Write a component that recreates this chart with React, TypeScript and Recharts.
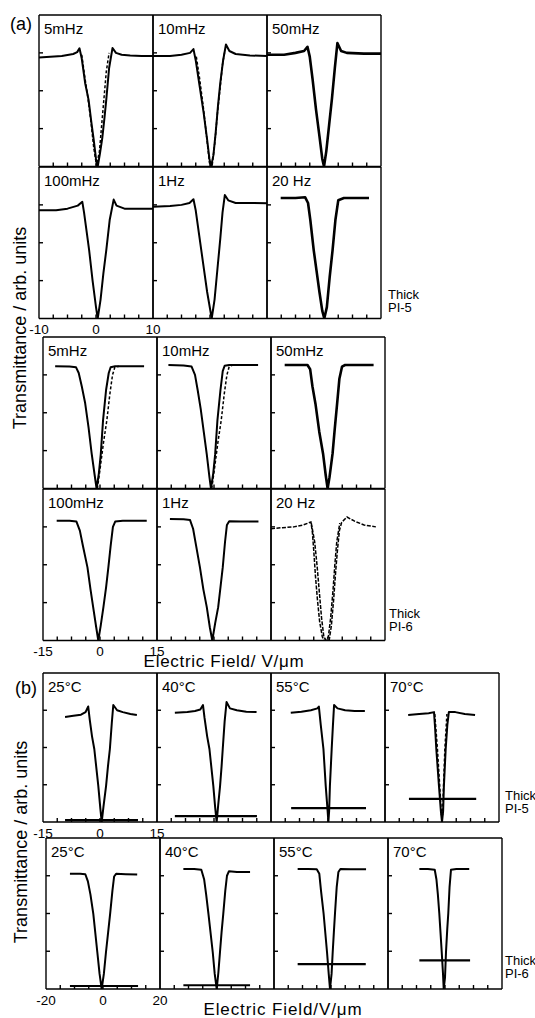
import React from 'react'
import { LineChart, Line, XAxis, YAxis } from 'recharts'

type Pt = [number, number]

// inward minor ticks on the field axis, and the labelled values under the first column
const ticks10 = [-7.5, -5, -2.5, 0, 2.5, 5, 7.5]
const ticks15 = [-11.25, -7.5, -3.75, 0, 3.75, 7.5, 11.25]
const ticks20 = [-15, -10, -5, 0, 5, 10, 15]
const labels10 = [-10, 0, 10]
const labels15 = [-15, 0, 15]
const labels20 = [-20, 0, 20]
const yTicks = [1, 2, 3]

const freqLabels = ['5mHz', '10mHz', '50mHz', '100mHz', '1Hz', '20 Hz']
const tempLabels = ['25°C', '40°C', '55°C', '70°C']

// (a) thick PI-5, field -10..10 V/um
const pi5_5mHz: Pt[] = [[-10, 2.88], [-8, 2.9], [-6, 2.92], [-4, 2.97], [-3.3, 3.02], [-2.9, 3.12], [-2.5, 2.85], [-1.9, 2.2], [-1.3, 1.76], [-0.8, 1.15], [-0.4, 0.7], [0, 0.2], [0.3, 0], [0.7, 0.35], [1.1, 0.75], [1.5, 1.3], [1.8, 1.76], [2.3, 2.6], [2.9, 3.13], [3.5, 3.0], [4.5, 2.95], [6, 2.93], [8, 2.92], [10, 2.92]]
const pi5_5mHz_ret: Pt[] = [[-2.5, 2.95], [-2.0, 2.4], [-1.5, 1.9], [-0.9, 1.2], [-0.4, 0.5], [0.1, 0.02], [0.6, 0.4], [1.0, 1.1], [1.4, 1.8], [1.8, 2.5], [2.3, 3.0]]
const pi5_10mHz: Pt[] = [[-10, 2.92], [-7, 2.92], [-5, 2.95], [-3.5, 3.0], [-2.9, 3.1], [-2.5, 2.8], [-1.8, 2.1], [-1.1, 1.4], [-0.5, 0.7], [-0.1, 0.2], [0.2, 0], [0.6, 0.3], [1.0, 0.9], [1.4, 1.6], [1.8, 2.2], [2.3, 2.8], [2.8, 3.22], [3.4, 3.05], [4.5, 2.97], [7, 2.93], [10, 2.92]]
const pi5_10mHz_ret: Pt[] = [[-2.4, 2.9], [-1.8, 2.3], [-1.2, 1.6], [-0.6, 0.8], [-0.1, 0.1], [0.4, 0.05], [0.9, 0.7], [1.3, 1.4], [1.8, 2.1], [2.2, 2.7], [2.6, 3.05]]
const pi5_50mHz: Pt[] = [[-10, 2.95], [-7, 2.95], [-5, 3.0], [-3.5, 3.05], [-2.9, 3.16], [-2.5, 2.9], [-2.0, 2.3], [-1.4, 1.5], [-0.8, 0.8], [-0.3, 0.2], [0, 0], [0.4, 0.4], [0.9, 1.1], [1.4, 1.8], [1.9, 2.6], [2.35, 3.26], [3.0, 3.05], [4, 3.0], [7, 2.98], [10, 2.98]]
const pi5_100mHz: Pt[] = [[-10, 2.86], [-7, 2.86], [-5, 2.9], [-3.2, 2.98], [-2.4, 3.08], [-2.1, 2.8], [-1.6, 2.25], [-1.2, 1.8], [-0.6, 1.0], [0, 0.3], [0.3, 0], [0.8, 0.5], [1.3, 1.2], [1.8, 1.8], [2.4, 2.6], [3.1, 3.14], [3.6, 2.98], [5, 2.9], [7, 2.9], [10, 2.9]]
const pi5_1Hz: Pt[] = [[-10, 2.95], [-7, 2.97], [-5, 3.0], [-3.6, 3.05], [-2.9, 3.15], [-2.5, 2.85], [-1.9, 2.2], [-1.2, 1.45], [-0.5, 0.7], [0.3, 0], [0.8, 0.5], [1.3, 1.3], [1.8, 2.1], [2.2, 2.8], [2.6, 3.26], [3.2, 3.12], [4.5, 3.05], [7, 3.05], [10, 3.04]]
const pi5_20Hz: Pt[] = [[-7.6, 3.18], [-5, 3.18], [-3.3, 3.2], [-2.8, 3.05], [-2.4, 2.6], [-1.8, 1.8], [-1.3, 1.25], [-0.8, 0.7], [-0.3, 0.2], [0.05, 0], [0.5, 0.3], [1.0, 1.1], [1.5, 1.8], [2.0, 2.6], [2.5, 3.12], [3.5, 3.18], [6, 3.18], [7.9, 3.18]]

// (a) thick PI-6, field -15..15 V/um
const pi6_5mHz: Pt[] = [[-11.8, 3.23], [-8, 3.22], [-6.3, 3.2], [-5.6, 3.05], [-4.8, 2.7], [-3.9, 2.25], [-3.0, 1.6], [-2.2, 0.93], [-1.4, 0.35], [-0.9, 0], [-0.3, 0.4], [0.2, 0.9], [0.8, 1.8], [1.6, 2.6], [2.3, 3.05], [2.8, 3.2], [4, 3.23], [8, 3.23], [11.6, 3.23]]
const pi6_5mHz_ret: Pt[] = [[-0.7, 0], [0, 0.5], [0.9, 1.2], [1.8, 1.8], [2.6, 2.5], [3.3, 3.0], [3.9, 3.2], [5, 3.23]]
const pi6_10mHz: Pt[] = [[-12, 3.26], [-8, 3.25], [-5.9, 3.22], [-5.0, 3.0], [-4.3, 2.6], [-3.5, 2.1], [-2.7, 1.5], [-1.9, 0.9], [-1.2, 0.3], [-0.8, 0], [-0.2, 0.4], [0.3, 0.9], [0.9, 1.8], [1.7, 2.6], [2.3, 3.1], [2.8, 3.24], [4, 3.26], [8, 3.26], [11.6, 3.26]]
const pi6_10mHz_ret: Pt[] = [[-0.6, 0], [0.1, 0.5], [1.0, 1.2], [1.9, 1.8], [2.7, 2.5], [3.4, 3.0], [4.0, 3.22], [5, 3.26]]
const pi6_50mHz: Pt[] = [[-11.4, 3.26], [-8, 3.26], [-5.4, 3.26], [-4.7, 3.15], [-4.1, 2.7], [-3.3, 2.24], [-2.3, 1.5], [-1.3, 0.92], [-0.6, 0.35], [-0.1, 0], [0.4, 0.3], [1.2, 0.92], [1.8, 1.6], [2.4, 2.24], [3.0, 2.9], [3.7, 3.22], [4.5, 3.26], [8, 3.26], [12, 3.26]]
const pi6_100mHz: Pt[] = [[-11.4, 3.16], [-8, 3.16], [-6.2, 3.14], [-5.3, 2.9], [-4.5, 2.5], [-3.3, 1.93], [-2.5, 1.35], [-1.8, 0.88], [-1.0, 0.35], [-0.45, 0], [0.2, 0.4], [0.9, 0.88], [1.6, 1.4], [2.2, 1.93], [2.8, 2.5], [3.4, 3.0], [4.0, 3.14], [6, 3.16], [9, 3.16], [12.3, 3.16]]
const pi6_1Hz: Pt[] = [[-11.6, 3.21], [-8, 3.2], [-6.3, 3.18], [-5.5, 2.95], [-4.7, 2.5], [-3.7, 1.93], [-2.8, 1.35], [-1.9, 0.88], [-1.1, 0.35], [-0.45, 0], [0.3, 0.45], [1.1, 0.88], [1.7, 1.4], [2.3, 1.93], [2.9, 2.6], [3.4, 3.05], [4.0, 3.15], [7, 3.14], [11.7, 3.14]]
const pi6_20Hz: Pt[] = [[-15, 2.95], [-12, 2.98], [-9, 3.0], [-6.5, 3.05], [-4.5, 3.13], [-4.1, 2.85], [-3.7, 2.3], [-3.3, 1.7], [-2.8, 1.1], [-2.2, 0.5], [-1.5, 0.1], [-1.0, 0], [0.3, 0], [0.9, 0.4], [1.5, 1.1], [2.0, 1.8], [2.5, 2.4], [3.0, 2.9], [3.6, 3.12], [5.0, 3.26], [7, 3.15], [9.5, 3.05], [12.6, 3.0]]
const pi6_20Hz_ret: Pt[] = [[-4.4, 3.1], [-3.5, 2.6], [-2.9, 2.0], [-2.3, 1.3], [-1.7, 0.6], [-1.1, 0.1], [-0.5, 0], [0.1, 0.1], [0.7, 0.6], [1.3, 1.3], [1.8, 2.0], [2.3, 2.6], [3.1, 3.1]]

// (b) thick PI-5 versus temperature, field -15..15 V/um
const t5_25: Pt[] = [[-9.2, 2.82], [-7, 2.85], [-5, 2.88], [-3.8, 2.95], [-3.1, 3.1], [-2.7, 2.75], [-2.1, 2.3], [-1.5, 1.96], [-0.45, 0.97], [0.1, 0.35], [0.45, 0], [0.9, 0.4], [1.6, 0.97], [2.1, 1.5], [2.6, 1.96], [3.1, 2.65], [3.5, 3.14], [4.5, 3.0], [6, 2.95], [8, 2.9], [9.7, 2.87]]
const t5_40: Pt[] = [[-10.3, 2.93], [-7, 2.95], [-5, 2.98], [-3.6, 3.02], [-2.9, 3.14], [-2.5, 2.8], [-1.8, 2.3], [-1.2, 1.96], [-0.18, 0.97], [0.3, 0.4], [0.7, 0], [1.1, 0.45], [1.6, 0.97], [2.0, 1.5], [2.3, 1.96], [2.8, 2.7], [3.3, 3.22], [4.2, 3.05], [6, 3.0], [8.5, 2.96], [11.2, 2.95]]
const t5_55: Pt[] = [[-9.8, 2.93], [-7, 2.96], [-4.5, 3.0], [-2.8, 3.05], [-2.4, 3.1], [-1.9, 2.6], [-1.2, 1.96], [-0.6, 0.97], [-0.1, 0.3], [0.1, 0], [0.3, 0.3], [0.5, 0.97], [0.97, 1.96], [1.3, 2.6], [1.6, 3.14], [2.5, 3.05], [4.5, 3.0], [7, 2.98], [9.7, 2.98]]
const t5_70: Pt[] = [[-8.9, 2.87], [-6, 2.9], [-3.5, 2.92], [-2.1, 2.95], [-1.8, 2.5], [-1.5, 1.96], [-0.8, 0.97], [-0.3, 0.3], [0, 0], [0.3, 0.3], [0.5, 0.97], [0.97, 1.96], [1.4, 2.6], [1.8, 2.95], [3.5, 2.95], [6, 2.9], [8.7, 2.87]]
const t5_70_ret: Pt[] = [[-1.9, 2.9], [-1.2, 1.96], [-0.6, 0.97], [-0.15, 0.2], [0.15, 0.2], [0.4, 0.97], [0.75, 1.96], [1.3, 2.9]]
const t5_25_dark: Pt[] = [[-9.2, 0.05], [10, 0.05]]
const t5_40_dark: Pt[] = [[-10.3, 0.16], [11.3, 0.16]]
const t5_55_dark: Pt[] = [[-9.7, 0.37], [10, 0.37]]
const t5_70_dark: Pt[] = [[-8.7, 0.62], [9, 0.62]]

// (b) thick PI-6 versus temperature, field -20..20 V/um
const t6_25: Pt[] = [[-11.6, 3.05], [-8, 3.05], [-6.2, 3.04], [-5.3, 2.85], [-4.4, 2.5], [-3.4, 1.99], [-2.0, 0.98], [-1.2, 0.4], [-0.46, 0], [0.3, 0.4], [1.05, 0.98], [1.8, 1.5], [2.5, 1.99], [3.3, 2.6], [3.9, 2.98], [4.6, 3.05], [8, 3.04], [12, 3.03]]
const t6_40: Pt[] = [[-11.8, 3.18], [-8, 3.18], [-5.5, 3.16], [-4.5, 2.9], [-3.8, 2.5], [-3.0, 1.99], [-1.5, 0.98], [-0.8, 0.4], [-0.1, 0], [0.5, 0.45], [1.05, 0.98], [1.6, 1.5], [2.2, 1.99], [2.9, 2.6], [3.5, 3.0], [4.2, 3.12], [7, 3.1], [11.6, 3.1]]
const t6_55: Pt[] = [[-11.7, 3.18], [-8, 3.18], [-5, 3.17], [-4.1, 3.05], [-3.5, 2.6], [-2.6, 2.0], [-1.4, 0.98], [-0.8, 0.4], [-0.35, 0], [0.2, 0.4], [0.6, 0.98], [1.0, 1.5], [1.4, 2.0], [2.0, 2.7], [2.6, 3.1], [3.3, 3.18], [7, 3.17], [12.3, 3.17]]
const t6_70: Pt[] = [[-9, 3.18], [-6, 3.18], [-3.6, 3.16], [-3.0, 2.9], [-2.5, 2.5], [-2.0, 2.0], [-1.15, 0.98], [-0.7, 0.4], [-0.45, 0], [0, 0.3], [0.35, 0.98], [0.8, 1.6], [1.15, 2.0], [1.6, 2.7], [2.1, 3.16], [4, 3.18], [8.5, 3.18]]
const t6_25_dark: Pt[] = [[-11.6, 0.08], [12.3, 0.08]]
const t6_40_dark: Pt[] = [[-11.8, 0.1], [11.6, 0.1]]
const t6_55_dark: Pt[] = [[-11.7, 0.66], [12.2, 0.66]]
const t6_70_dark: Pt[] = [[-9, 0.76], [8.8, 0.76]]

const PADX = 14
const PADY = 3
const FONT = '"Liberation Sans", Arial, Helvetica, sans-serif'
const FRAME = 1.4

const toRows = (pts: Pt[]) => pts.map(([x, y]) => ({ x, y }))

// tick marks without text: the frame axes keep their tick lines only
const NoLabel = () => null

type Curves = { solid: Pt[][]; dashed?: Pt[][]; level?: Pt[]; thick?: boolean; dash?: string }

interface CellProps extends Curves {
  x: number
  y: number
  w: number
  h: number
  domain: [number, number]
  ticks: number[]
  title: string
  tickLabels?: number[]
}

function Cell({ x, y, w, h, domain, ticks, title, solid, dashed = [], level, tickLabels, thick, dash = '3 2' }: CellProps) {
  const extra = tickLabels ? 22 : 0
  return (
    <div style={{ position: 'absolute', left: x - PADX, top: y - PADY }}>
      <LineChart
        width={w + 2 * PADX}
        height={h + 2 * PADY + extra}
        margin={{ top: PADY, right: PADX, bottom: PADY, left: PADX }}
      >
        {/* frame: bottom and left axes carry the inward ticks, top and right are bare lines */}
        <XAxis xAxisId="b" type="number" dataKey="x" domain={domain} allowDataOverflow ticks={ticks} interval={0}
          mirror tick={NoLabel} tickSize={4} height={1} stroke="#000" strokeWidth={FRAME} />
        <XAxis xAxisId="t" orientation="top" type="number" dataKey="x" domain={domain} allowDataOverflow
          mirror tick={false} tickLine={false} height={1} stroke="#000" strokeWidth={FRAME} />
        {tickLabels && (
          <XAxis xAxisId="lbl" type="number" dataKey="x" domain={domain} allowDataOverflow ticks={tickLabels}
            interval={0} axisLine={false} tickLine={false} tickSize={4} height={extra}
            tick={{ fill: '#000', fontSize: 13.5, fontFamily: FONT }} />
        )}
        <YAxis yAxisId="l" type="number" domain={[0, 4]} ticks={yTicks} interval={0} allowDataOverflow
          mirror tick={NoLabel} tickSize={4} width={1} stroke="#000" strokeWidth={FRAME} />
        <YAxis yAxisId="r" orientation="right" type="number" domain={[0, 4]} allowDataOverflow
          mirror tick={false} tickLine={false} width={1} stroke="#000" strokeWidth={FRAME} />
        {level && (
          <Line xAxisId="b" yAxisId="l" data={toRows(level)} dataKey="y" type="linear" dot={false}
            stroke="#000" strokeWidth={2.2} isAnimationActive={false} />
        )}
        {solid.map((pts, i) => (
          <Line key={`s${i}`} xAxisId="b" yAxisId="l" data={toRows(pts)} dataKey="y" type="linear" dot={false}
            stroke="#000" strokeWidth={thick ? 2.6 : 2} strokeLinejoin="round" isAnimationActive={false} />
        ))}
        {dashed.map((pts, i) => (
          <Line key={`d${i}`} xAxisId="b" yAxisId="l" data={toRows(pts)} dataKey="y" type="linear" dot={false}
            stroke="#000" strokeWidth={1.5} strokeDasharray={dash} isAnimationActive={false} />
        ))}
      </LineChart>
      <div style={{ position: 'absolute', left: PADX + 5, top: PADY + 6, fontSize: 15, lineHeight: '15px', fontFamily: FONT, whiteSpace: 'nowrap' }}>
        {title}
      </div>
    </div>
  )
}

function Note({ x, y, lines }: { x: number; y: number; lines: string[] }) {
  return (
    <div style={{ position: 'absolute', left: x, top: y, fontSize: 13, lineHeight: '13px', fontFamily: FONT }}>
      {lines.map(l => <div key={l}>{l}</div>)}
    </div>
  )
}

function Text({ x, y, size, children, rotate, spacing = 0 }: { x: number; y: number; size: number; children: React.ReactNode; rotate?: boolean; spacing?: number }) {
  return (
    <div style={{
      position: 'absolute', left: x, top: y, fontSize: size, lineHeight: `${size}px`, fontFamily: FONT,
      letterSpacing: spacing, whiteSpace: 'nowrap', transform: `translate(-50%, -50%)${rotate ? ' rotate(-90deg)' : ''}`,
    }}>
      {children}
    </div>
  )
}

export default function App() {
  const a5 = { x: 39, y: 15, w: 114, h: 151.5 }
  const a6 = { x: 43, y: 337, w: 114, h: 151.5 }
  const b5 = { x: 43, y: 673, w: 114, h: 149 }
  const b6 = { x: 46, y: 838, w: 114, h: 151 }

  const pi5Curves: Curves[] = [
    { solid: [pi5_5mHz], dashed: [pi5_5mHz_ret] },
    { solid: [pi5_10mHz], dashed: [pi5_10mHz_ret] },
    { solid: [pi5_50mHz], thick: true },
    { solid: [pi5_100mHz] },
    { solid: [pi5_1Hz] },
    { solid: [pi5_20Hz], thick: true },
  ]
  const pi6Curves: Curves[] = [
    { solid: [pi6_5mHz], dashed: [pi6_5mHz_ret] },
    { solid: [pi6_10mHz], dashed: [pi6_10mHz_ret] },
    { solid: [pi6_50mHz], thick: true },
    { solid: [pi6_100mHz] },
    { solid: [pi6_1Hz] },
    { solid: [], dashed: [pi6_20Hz, pi6_20Hz_ret], dash: '4 1.5' },
  ]
  const t5Curves: Curves[] = [
    { solid: [t5_25], level: t5_25_dark },
    { solid: [t5_40], level: t5_40_dark },
    { solid: [t5_55], level: t5_55_dark },
    { solid: [t5_70], dashed: [t5_70_ret], level: t5_70_dark },
  ]
  const t6Curves: Curves[] = [
    { solid: [t6_25], level: t6_25_dark },
    { solid: [t6_40], level: t6_40_dark },
    { solid: [t6_55], level: t6_55_dark },
    { solid: [t6_70], level: t6_70_dark },
  ]

  return (
    <div style={{ position: 'absolute', left: 0, top: 0, width: 535, height: 1018, background: '#fff', overflow: 'hidden', color: '#000' }}>
      {pi5Curves.map((c, i) => (
        <Cell key={`a5${i}`} x={a5.x + (i % 3) * a5.w} y={a5.y + Math.floor(i / 3) * a5.h} w={a5.w} h={a5.h}
          domain={[-10, 10]} ticks={ticks10} title={freqLabels[i]} {...c}
          tickLabels={i === 3 ? labels10 : undefined} />
      ))}
      {pi6Curves.map((c, i) => (
        <Cell key={`a6${i}`} x={a6.x + (i % 3) * a6.w} y={a6.y + Math.floor(i / 3) * a6.h} w={a6.w} h={a6.h}
          domain={[-15, 15]} ticks={ticks15} title={freqLabels[i]} {...c}
          tickLabels={i === 3 ? labels15 : undefined} />
      ))}
      {t5Curves.map((c, i) => (
        <Cell key={`b5${i}`} x={b5.x + i * b5.w} y={b5.y} w={b5.w} h={b5.h}
          domain={[-15, 15]} ticks={ticks15} title={tempLabels[i]} {...c}
          tickLabels={i === 0 ? labels15 : undefined} />
      ))}
      {t6Curves.map((c, i) => (
        <Cell key={`b6${i}`} x={b6.x + i * b6.w} y={b6.y} w={b6.w} h={b6.h}
          domain={[-20, 20]} ticks={ticks20} title={tempLabels[i]} {...c}
          tickLabels={i === 0 ? labels20 : undefined} />
      ))}

      <Text x={21} y={24} size={18}>(a)</Text>
      <Text x={26} y={688} size={18}>(b)</Text>

      <Text x={20} y={328} size={18} rotate>Transmittance / arb. units</Text>
      <Text x={21} y={842} size={18} rotate>Transmittance / arb. units</Text>

      <Text x={224} y={661} size={17} spacing={0.7}>Electric Field/ V/μm</Text>
      <Text x={283} y={1009} size={17} spacing={0.9}>Electric Field/V/μm</Text>

      <Note x={388} y={288} lines={['Thick', 'PI-5']} />
      <Note x={389} y={607} lines={['Thick', 'PI-6']} />
      <Note x={505} y={789} lines={['Thick', 'PI-5']} />
      <Note x={505} y={954} lines={['Thick', 'PI-6']} />
    </div>
  )
}
